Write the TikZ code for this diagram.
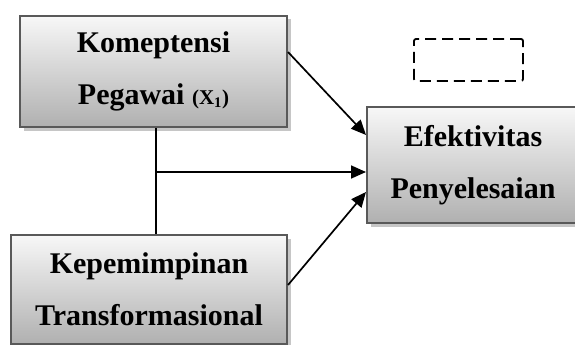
\documentclass[tikz,border=0pt]{standalone}
\usepackage{fontspec}
\setmainfont{Liberation Serif}
\usetikzlibrary{shadows,arrows.meta}

\begin{document}
\begin{tikzpicture}[x=1pt,y=-1pt,
  var/.style={draw=gray!70!black,line width=2pt,top color=gray!6,bottom color=gray!62,
              drop shadow={shadow xshift=3.5pt,shadow yshift=-3.5pt,fill=gray!45,opacity=1},
              align=center,inner sep=0pt,font=\fontsize{30}{52}\selectfont\bfseries},
  blank/.style={draw,line width=1.8pt,dash pattern=on 11pt off 6pt,rounded corners=2pt},
  a/.style={-{Triangle[length=15pt,width=13pt]},line width=1.7pt}
]
\useasboundingbox (0,0) rectangle (575,345);
\clip (0,0) rectangle (575,345);
\node[var,minimum width=267pt,minimum height=111pt] (x1) at (153.5,71.5)
  {Komeptensi\\Pegawai {\fontsize{21}{24}\selectfont(X\textsubscript{1})}};
\node[var,minimum width=276pt,minimum height=109pt] (x2) at (149,289.5)
  {Kepemimpinan\\Transformasional};
\node[var,minimum width=212pt,minimum height=116pt] (y) at (473,165)
  {Efektivitas\\Penyelesaian};
\node[blank,minimum width=109pt,minimum height=42pt] (empty) at (468.5,60) {};
% lines
\coordinate (j) at ([xshift=2.5pt]x1.south |- 0,172);
\draw[line width=1.7pt] ([xshift=2.5pt]x1.south) -- ([xshift=2.5pt]x1.south |- x2.north);
\draw[a] (j) -- (j -| y.west);
\draw[a] ([yshift=19.5pt]x1.east) -- ([yshift=30pt]y.west);
\draw[a] ([yshift=4.5pt]x2.east) -- ([yshift=-27pt]y.west);
\end{tikzpicture}
\end{document}
